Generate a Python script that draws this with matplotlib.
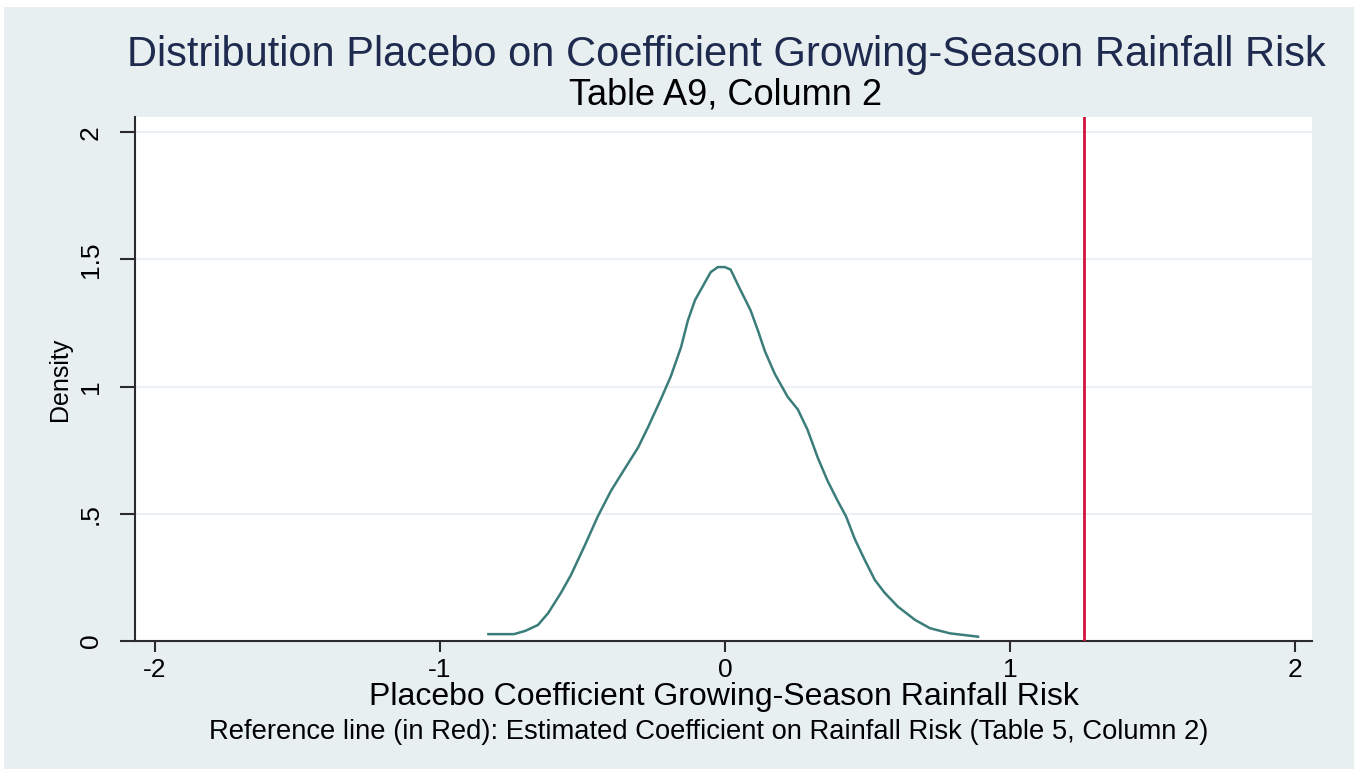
import matplotlib.pyplot as plt
from matplotlib.patches import Rectangle

plt.rcParams['font.family'] = ['Liberation Sans', 'DejaVu Sans']

# kernel density of placebo coefficients
coef = [-0.83, -0.74, -0.70, -0.656, -0.62, -0.575, -0.54, -0.49, -0.446, -0.40,
        -0.35, -0.305, -0.27, -0.225, -0.19, -0.154, -0.13, -0.105, -0.07, -0.05,
        -0.025, 0.00, 0.02, 0.05, 0.09, 0.116, 0.14, 0.175, 0.22, 0.256,
        0.29, 0.326, 0.36, 0.396, 0.425, 0.456, 0.49, 0.526, 0.56, 0.607,
        0.667, 0.72, 0.79, 0.888]
density = [0.027, 0.027, 0.04, 0.063, 0.11, 0.19, 0.26, 0.38, 0.49, 0.59,
           0.68, 0.76, 0.84, 0.95, 1.04, 1.155, 1.26, 1.34, 1.41, 1.45,
           1.47, 1.47, 1.46, 1.39, 1.30, 1.22, 1.14, 1.05, 0.96, 0.91,
           0.83, 0.72, 0.63, 0.55, 0.49, 0.40, 0.32, 0.24, 0.19, 0.135,
           0.083, 0.05, 0.03, 0.017]
est_coef = 1.26

xticks = [-2, -1, 0, 1, 2]
yticks = [0, 0.5, 1, 1.5, 2]
ytick_labels = ['0', '.5', '1', '1.5', '2']

W, H = 1354, 769
bg = '#E8EFF1'
fig = plt.figure(figsize=(W / 100, H / 100), dpi=100)
fig.patch.set_facecolor('white')
fig.patches.append(Rectangle((4 / W, 0), 1, 1 - 7 / H, transform=fig.transFigure,
                             facecolor=bg, edgecolor='none', zorder=-10))

ax = fig.add_axes([135 / W, 128 / H, (1312 - 135) / W, (641 - 117) / H])
ax.set_facecolor('white')

ax.plot(coef, density, color='#3B7D7A', lw=1.8, zorder=3)
ax.axvline(est_coef, color='#D3123F', lw=2, zorder=3)

ax.set_xlim(-2.07, 2.06)
ax.set_ylim(0, 2.06)
ax.set_xticks(xticks)
ax.set_xticklabels([str(t) for t in xticks], fontsize=19)
ax.set_yticks(yticks)
ax.set_yticklabels(ytick_labels, fontsize=19, rotation=90, va='center')
ax.grid(axis='y', color='#E6EEF1', lw=1.2)
ax.set_axisbelow(True)

for s in ['top', 'right']:
    ax.spines[s].set_visible(False)
for s in ['left', 'bottom']:
    ax.spines[s].set_color('#2b2b2b')
    ax.spines[s].set_linewidth(1.5)
ax.tick_params(axis='x', length=8, width=1.5, color='#2b2b2b', pad=4)
ax.tick_params(axis='y', length=11, width=1.5, color='#2b2b2b', pad=12)

ax.set_ylabel('Density', fontsize=18)
ax.yaxis.set_label_coords((60 - 135) / 1177, 0.5)
ax.yaxis.label.set_va('center')
ax.set_xlabel('Placebo Coefficient Growing-Season Rainfall Risk', fontsize=23)
ax.xaxis.set_label_coords(0.5, (641 - 697) / 524)
ax.xaxis.label.set_va('center')

fig.text(726 / W, 1 - 55 / H, 'Distribution Placebo on Coefficient Growing-Season Rainfall Risk',
         ha='center', va='center', fontsize=30, color='#1E2B4F')
fig.text(726 / W, 1 - 95 / H, 'Table A9, Column 2',
         ha='center', va='center', fontsize=26, color='black')
fig.text(709 / W, 1 - 732 / H,
         'Reference line (in Red): Estimated Coefficient on Rainfall Risk (Table 5, Column 2)',
         ha='center', va='center', fontsize=19.7, color='black')

fig.savefig('out.png', dpi=100, facecolor=fig.get_facecolor())
